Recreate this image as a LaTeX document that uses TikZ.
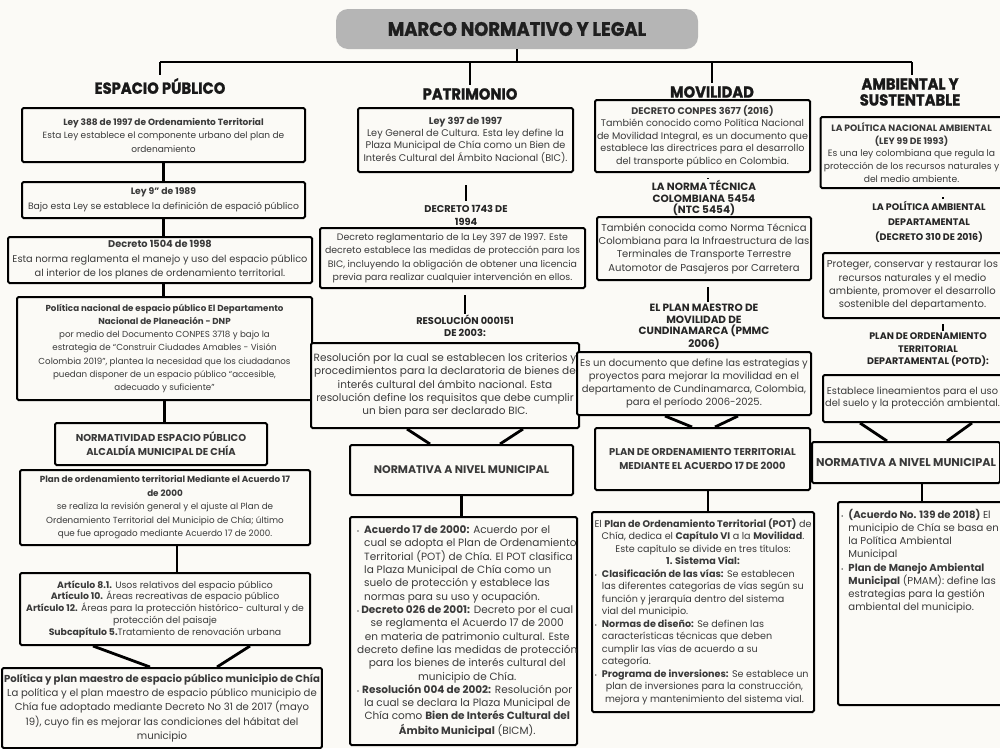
\documentclass[tikz,border=0pt]{standalone}
\usepackage{fontspec}
\setmainfont{Poppins}
\newfontfamily\headfont{Poppins}[FakeStretch=0.92, FakeBold=1.2]
\usetikzlibrary{calc}
\definecolor{bg}{HTML}{FBFAF6}
\definecolor{blob}{HTML}{B5B5B5}
\definecolor{txt}{HTML}{3A3A3A}
\newcommand\fs[2]{\fontsize{#1}{#2}\selectfont}
\newcommand\bul{{\fontsize{6}{6}\selectfont\textbullet}}
\newcommand\myL[2]{\makebox[#1][l]{#2}}
\newcommand\myC[2]{\makebox[#1][c]{#2}}
\begin{document}
\begin{tikzpicture}[x=1pt,y=-1pt,
  box/.style={draw=black, line width=2pt, fill=bg, inner sep=2pt, align=center, text=txt, rounded corners=1.5pt},
  conn/.style={line width=2.8pt, black},
  bar/.style={line width=2.4pt, black},
  mainhead/.style={font=\headfont\bfseries\fs{16}{16}, align=center, inner sep=0pt, text=black!90},
  subhead/.style={font=\bfseries\fs{9.8}{12}, align=center, inner sep=0pt, text=black!85},
  titlebox/.style={fill=blob, rounded corners=12pt, minimum width=362pt, minimum height=40pt, font=\headfont\bfseries\fs{19.5}{20}, text=black!88}
]
\fill[bg] (0,0) rectangle (1000,748);
\useasboundingbox (0,0) rectangle (1000,748);

% ---------- title and main branches
\node[titlebox] (title) at (517,29) {MARCO NORMATIVO Y LEGAL};
\node[mainhead] (hEsp) at (160,86) {ESPACIO PÚBLICO};
\node[mainhead] (hPat) at (470,94) {PATRIMONIO};
\node[mainhead] (hMov) at (712,92) {MOVILIDAD};
\node[mainhead] (hAmb) at (910,92) {AMBIENTAL Y\\SUSTENTABLE};
\coordinate (hl) at (160,62);
\coordinate (hr) at (912,62);
\draw[conn] (title.south) -- (title.south |- hl);
\draw[conn] (hl) -- (hr);
\draw[conn, shorten >=3pt] (hl) -- (hl |- hEsp.north);
\draw[conn, shorten >=3pt] (hPat.north |- hl) -- (hPat.north);
\draw[conn, shorten >=3pt] (hMov.north |- hl) -- (hMov.north);
\draw[conn, shorten >=3pt] (hr) -- (hr |- hAmb.north);

% ---------- ESPACIO PUBLICO
\node[box, font=\fs{9}{13.5}, minimum width=283pt, minimum height=54pt] (E1) at (163.5,135)
 {\textbf{Ley 388 de 1997 de Ordenamiento Territorial}\\Esta Ley establece el componente urbano del plan de\\ordenamiento};
\node[box, font=\fs{9.25}{15}, minimum width=283pt, minimum height=36pt] (E2) at (163.5,200)
 {\textbf{Ley 9" de 1989}\\Bajo esta Ley se establece la definición de espació público};
\node[box, font=\fs{9.8}{14.5}, minimum width=304pt, minimum height=46pt] (E3) at (160,260)
 {\textbf{Decreto 1504 de 1998}\\Esta norma reglamenta el manejo y uso del espacio público\\al interior de los planes de ordenamiento territorial.};
\node[box, font=\fs{8.7}{13.1}, minimum width=295pt, minimum height=103pt] (E4) at (164.5,348.5)
 {\textbf{Política nacional de espacio público El Departamento}\\\textbf{Nacional de Planeación - DNP}\\por medio del Documento CONPES 3718 y bajo la\\estrategia de “Construir Ciudades Amables - Visión\\Colombia 2019”, plantea la necesidad que los ciudadanos\\puedan disponer de un espacio público “accesible,\\adecuado y suficiente”};
\node[box, font=\bfseries\fs{10}{14}, minimum width=212pt, minimum height=42pt] (E5) at (161,444)
 {NORMATIVIDAD ESPACIO PÚBLICO\\ALCALDÍA MUNICIPAL DE CHÍA};
\node[box, font=\fs{8.8}{13.5}, minimum width=290pt, minimum height=75pt] (E6) at (165,507.5)
 {\textbf{Plan de ordenamiento territorial Mediante el Acuerdo 17}\\\textbf{de 2000}\\se realiza la revisión general y el ajuste al Plan de\\Ordenamiento Territorial del Municipio de Chía; último\\que fue aprogado mediante Acuerdo 17 de 2000.};
\node[box, font=\fs{9.3}{11.8}, minimum width=290pt, minimum height=72pt] (E7) at (165,609)
 {\textbf{Artículo 8.1.} Usos relativos del espacio público\\\textbf{Artículo 10.} Áreas recreativas de espacio público\\\textbf{Artículo 12.} Áreas para la protección histórico- cultural y de\\protección del paisaje\\\textbf{Subcapítulo 5.}Tratamiento de renovación urbana};
\node[box, font=\fs{10.1}{14.3}, minimum width=317pt, minimum height=80pt] (E8) at (162,708)
 {\textbf{Política y plan maestro de espacio público municipio de Chía}\\La política y el plan maestro de espacio público municipio de\\Chía fue adoptado mediante Decreto No 31 de 2017 (mayo\\19), cuyo fin es mejorar las condiciones del hábitat del\\municipio};
\draw[conn] (E1.south) -- (E1.south |- E2.north);
\draw[conn] (E2.south) -- (E2.south |- E3.north);
\draw[conn] (E2.south |- E3.south) -- (E2.south |- E4.north);
\draw[conn] (E4.south) -- (E4.south |- E5.north);
\draw[conn] ([xshift=12pt]E6.south) -- ([xshift=12pt]E6.south |- E7.north);
\draw[conn] ([xshift=-72pt]E7.south) -- ([xshift=-12pt]E8.north);
\draw[conn] ([xshift=85pt]E7.south) -- ([xshift=55pt]E8.north);

% ---------- PATRIMONIO
\node[box, font=\fs{9.7}{12.4}, minimum width=215pt, minimum height=64pt] (P1) at (465.5,140)
 {\textbf{Ley 397 de 1997}\\Ley General de Cultura. Esta ley define la\\Plaza Municipal de Chía como un Bien de\\Interés Cultural del Ámbito Nacional (BIC).};
\node[subhead, font=\bfseries\fs{9.8}{13.3}] (H2) at (466,215) {DECRETO 1743 DE\\1994};
\node[box, font=\fs{9.4}{13.3}, inner sep=1pt, minimum width=265pt, minimum height=60pt] (P2) at (452.5,258)
 {Decreto reglamentario de la Ley 397 de 1997. Este\\decreto establece las medidas de protección para los\\BIC, incluyendo la obligación de obtener una licencia\\previa para realizar cualquier intervención en ellos.};
\node[subhead] (H3) at (465,326) {RESOLUCIÓN 000151\\DE 2003:};
\node[box, font=\fs{10.5}{13.3}, inner sep=1pt, minimum width=268pt, minimum height=85pt] (P3) at (445,385.5)
 {Resolución por la cual se establecen los criterios y\\procedimientos para la declaratoria de bienes de\\interés cultural del ámbito nacional. Esta\\resolución define los requisitos que debe cumplir\\un bien para ser declarado BIC.};
\node[box, font=\bfseries\fs{11}{14}, minimum width=223pt, minimum height=50pt] (P4) at (461.5,470)
 {NORMATIVA A NIVEL MUNICIPAL};
\node[box, font=\fs{10.5}{13.3}, minimum width=227pt, minimum height=228pt] (P5) at (463.5,631)
 {\begin{tabular}{@{}l@{\hspace{5pt}}l@{}}
\bul & \myL{206pt}{\textbf{Acuerdo 17 de 2000:} Acuerdo por el}\\
 & \myL{206pt}{cual se adopta el Plan de Ordenamiento}\\
 & \myL{206pt}{Territorial (POT) de Chía. El POT clasifica}\\
 & \myL{206pt}{la Plaza Municipal de Chía como un}\\
 & \myL{206pt}{suelo de protección y establece las}\\
 & \myL{206pt}{normas para su uso y ocupación.}\\
\bul & \myC{206pt}{\textbf{Decreto 026 de 2001:} Decreto por el cual}\\
 & \myC{206pt}{se reglamenta el Acuerdo 17 de 2000}\\
 & \myC{206pt}{en materia de patrimonio cultural. Este}\\
 & \myC{206pt}{decreto define las medidas de protección}\\
 & \myC{206pt}{para los bienes de interés cultural del}\\
 & \myC{206pt}{municipio de Chía.}\\
\bul & \myC{206pt}{\textbf{Resolución 004 de 2002:} Resolución por}\\
 & \myC{206pt}{la cual se declara la Plaza Municipal de}\\
 & \myC{206pt}{Chía como \textbf{Bien de Interés Cultural del}}\\
 & \myC{206pt}{\textbf{Ámbito Municipal} (BICM).}
\end{tabular}};
\draw[bar, shorten <=12pt, shorten >=3pt] (H2.north |- P1.south) -- (H2.north);
\draw[bar, shorten <=6pt, shorten >=1pt] (H3.north |- P2.south) -- (H3.north);
\draw[conn] ([xshift=-38pt]P3.south) -- ([xshift=-31.5pt]P4.north);
\draw[conn] ([xshift=78pt]P3.south) -- ([xshift=38.5pt]P4.north);
\draw[conn] (P4.south) -- (P4.south |- P5.north);

% ---------- MOVILIDAD
\node[box, font=\fs{9.6}{12.5}, inner sep=1pt, minimum width=215pt, minimum height=72pt] (M1) at (702.5,136)
 {\textbf{DECRETO CONPES 3677 (2016)}\\También conocido como Política Nacional\\de Movilidad Integral, es un documento que\\establece las directrices para el desarrollo\\del transporte público en Colombia.};
\node[subhead, font=\bfseries\fs{10.5}{11.7}] (hNTC) at (704,198) {LA NORMA TÉCNICA\\COLOMBIANA 5454\\(NTC 5454)};
\node[box, font=\fs{10}{13.3}, inner sep=1pt, minimum width=214pt, minimum height=63pt] (M2) at (704,248.5)
 {También conocida como Norma Técnica\\Colombiana para la Infraestructura de las\\Terminales de Transporte Terrestre\\Automotor de Pasajeros por Carretera};
\node[subhead, font=\bfseries\fs{10.5}{11.7}] (hPMMC) at (704,327) {EL PLAN MAESTRO DE\\MOVILIDAD DE\\CUNDINAMARCA (PMMC\\2006)};
\node[box, font=\fs{10}{13.3}, inner sep=1pt, minimum width=234pt, minimum height=63pt] (M3) at (694,383.5)
 {Es un documento que define las estrategias y\\proyectos para mejorar la movilidad en el\\departamento de Cundinamarca, Colombia,\\para el período 2006-2025.};
\node[box, font=\bfseries\fs{9.9}{13.3}, minimum width=215pt, minimum height=62pt] (M4) at (702.5,459)
 {PLAN DE ORDENAMIENTO TERRITORIAL\\MEDIANTE EL ACUERDO 17 DE 2000};
\node[box, font=\fs{9.6}{12.5}, inner sep=1pt, minimum width=222pt, minimum height=200pt] (M5) at (703,612)
 {\begin{tabular}{@{}l@{\hspace{5pt}}l@{}}
\multicolumn{2}{@{}c@{}}{El \textbf{Plan de Ordenamiento Territorial (POT)} de}\\
\multicolumn{2}{@{}c@{}}{Chía, dedica el \textbf{Capítulo VI} a la \textbf{Movilidad}.}\\
\multicolumn{2}{@{}c@{}}{Este capítulo se divide en tres títulos:}\\
\multicolumn{2}{@{}c@{}}{\textbf{1. Sistema Vial:}}\\
\bul & \myL{205pt}{\textbf{Clasificación de las vías:} Se establecen}\\
 & \myL{205pt}{las diferentes categorías de vías según su}\\
 & \myL{205pt}{función y jerarquía dentro del sistema}\\
 & \myL{205pt}{vial del municipio.}\\
\bul & \myL{205pt}{\textbf{Normas de diseño:} Se definen las}\\
 & \myL{205pt}{características técnicas que deben}\\
 & \myL{205pt}{cumplir las vías de acuerdo a su}\\
 & \myL{205pt}{categoría.}\\
\bul & \myL{205pt}{\textbf{Programa de inversiones:} Se establece un}\\
 & \myC{205pt}{plan de inversiones para la construcción,}\\
 & \myC{205pt}{mejora y mantenimiento del sistema vial.}
\end{tabular}};
\draw[bar, shorten <=5pt, shorten >=2pt] ([xshift=5.5pt]M1.south) -- ([xshift=5.5pt]M1.south |- hNTC.north);
\draw[bar, shorten <=6pt, shorten >=2pt] ([xshift=4pt]M2.south) -- ([xshift=4pt]M2.south |- hPMMC.north);
\draw[conn] ([xshift=-29pt]M3.south) -- ([xshift=-10.5pt]M4.north);
\draw[conn] ([xshift=44pt]M3.south) -- ([xshift=12.5pt]M4.north);
\draw[conn] ([xshift=5.5pt]M4.south) -- ([xshift=5.5pt]M4.south |- M5.north);

% ---------- AMBIENTAL
\node[box, font=\fs{9.2}{12.7}, inner sep=1pt, minimum width=182pt, minimum height=71pt] (A1) at (911.5,152.5)
 {\textbf{LA POLÍTICA NACIONAL AMBIENTAL}\\\textbf{(LEY 99 DE 1993)}\\Es una ley colombiana que regula la\\protección de los recursos naturales y\\del medio ambiente.};
\node[subhead, font=\bfseries\fs{9.5}{15}] (hDep) at (929,222) {LA POLÍTICA AMBIENTAL\\DEPARTAMENTAL\\(DECRETO 310 DE 2016)};
\node[box, font=\fs{10}{13.3}, minimum width=179pt, minimum height=65pt] (A2) at (912.5,285.5)
 {Proteger, conservar y restaurar los\\recursos naturales y el medio\\ambiente, promover el desarrollo\\sostenible del departamento.};
\node[subhead, font=\bfseries\fs{9.5}{12.5}] (hPOTD) at (928,350) {PLAN DE ORDENAMIENTO\\TERRITORIAL\\DEPARTAMENTAL (POTD):};
\node[box, font=\fs{9.8}{12}, inner sep=1pt, minimum width=179pt, minimum height=47pt] (A3) at (912.5,398.5)
 {Establece lineamientos para el uso\\del suelo y la protección ambiental.};
\node[box, font=\bfseries\fs{11.3}{14}, inner sep=1pt, minimum width=188pt, minimum height=41pt] (A4) at (906,462.5)
 {NORMATIVA A NIVEL MUNICIPAL};
\node[box, font=\fs{10.1}{13.2}, minimum width=168pt, minimum height=203pt] (A5) at (922,603.5)
 {\parbox[c][197pt][t]{162pt}{\vspace{4pt}\begin{tabular}{@{}l@{\hspace{5pt}}l@{}}
\bul & \textbf{(Acuerdo No. 139 de 2018)} El\\
 & municipio de Chía se basa en\\
 & la Política Ambiental\\
 & Municipal\\
\bul & \textbf{Plan de Manejo Ambiental}\\
 & \textbf{Municipal} (PMAM): define las\\
 & estrategias para la gestión\\
 & ambiental del municipio.
\end{tabular}}};
\draw[bar, shorten <=8pt, shorten >=2pt] ([xshift=31.5pt]A1.south) -- ([xshift=31.5pt]A1.south |- hDep.north);
\draw[bar, shorten <=5pt, shorten >=2pt] ([xshift=30.5pt]A2.south) -- ([xshift=30.5pt]A2.south |- hPOTD.north);
\draw[conn] ([xshift=-52.5pt]A3.south) -- ([xshift=-19pt]A4.north);
\draw[conn] ([xshift=59.5pt]A3.south) -- ([xshift=41pt]A4.north);
\draw[conn] (A5.north |- A4.south) -- (A5.north);
\end{tikzpicture}
\end{document}
